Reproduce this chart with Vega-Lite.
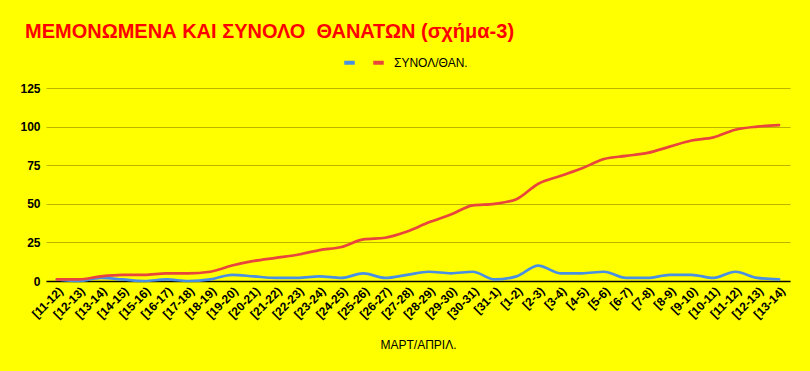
{
  "$schema": "https://vega.github.io/schema/vega-lite/v6.json",
  "autosize": "none",
  "width": 744,
  "height": 193,
  "padding": {"left": 46, "top": 88, "right": 20, "bottom": 90},
  "background": "#ffff00",
  "title": {
    "text": "ΜΕΜΟΝΩΜΕΝΑ ΚΑΙ ΣΥΝΟΛΟ \u00a0ΘΑΝΑΤΩΝ (σχήμα-3)",
    "anchor": "start",
    "frame": "group",
    "font": "Liberation Sans",
    "fontSize": 20,
    "fontWeight": "bold",
    "color": "#ff0000",
    "dx": -21,
    "offset": 13
  },
  "data": {
    "values": [
      {"date": "2020-03-12", "daily": 1, "total": 1},
      {"date": "2020-03-13", "daily": 0, "total": 1},
      {"date": "2020-03-14", "daily": 2, "total": 3},
      {"date": "2020-03-15", "daily": 1, "total": 4},
      {"date": "2020-03-16", "daily": 0, "total": 4},
      {"date": "2020-03-17", "daily": 1, "total": 5},
      {"date": "2020-03-18", "daily": 0, "total": 5},
      {"date": "2020-03-19", "daily": 1, "total": 6},
      {"date": "2020-03-20", "daily": 4, "total": 10},
      {"date": "2020-03-21", "daily": 3, "total": 13},
      {"date": "2020-03-22", "daily": 2, "total": 15},
      {"date": "2020-03-23", "daily": 2, "total": 17},
      {"date": "2020-03-24", "daily": 3, "total": 20},
      {"date": "2020-03-25", "daily": 2, "total": 22},
      {"date": "2020-03-26", "daily": 5, "total": 27},
      {"date": "2020-03-27", "daily": 2, "total": 28},
      {"date": "2020-03-28", "daily": 4, "total": 32},
      {"date": "2020-03-29", "daily": 6, "total": 38},
      {"date": "2020-03-30", "daily": 5, "total": 43},
      {"date": "2020-03-31", "daily": 6, "total": 49},
      {"date": "2020-04-01", "daily": 1, "total": 50},
      {"date": "2020-04-02", "daily": 3, "total": 53},
      {"date": "2020-04-03", "daily": 10, "total": 63},
      {"date": "2020-04-04", "daily": 5, "total": 68},
      {"date": "2020-04-05", "daily": 5, "total": 73},
      {"date": "2020-04-06", "daily": 6, "total": 79},
      {"date": "2020-04-07", "daily": 2, "total": 81},
      {"date": "2020-04-08", "daily": 2, "total": 83},
      {"date": "2020-04-09", "daily": 4, "total": 87},
      {"date": "2020-04-10", "daily": 4, "total": 91},
      {"date": "2020-04-11", "daily": 2, "total": 93},
      {"date": "2020-04-12", "daily": 6, "total": 98},
      {"date": "2020-04-13", "daily": 2, "total": 100},
      {"date": "2020-04-14", "daily": 1, "total": 101}
    ]
  },
  "transform": [{"fold": ["daily", "total"], "as": ["series", "value"]}],
  "mark": {"type": "line", "interpolate": "monotone", "strokeWidth": 2.7, "strokeCap": "round"},
  "encoding": {
    "x": {
      "field": "date",
      "type": "ordinal",
      "sort": null,
      "scale": {"type": "point", "padding": 0.5},
      "axis": {
        "title": "ΜΑΡΤ/ΑΠΡΙΛ.",
        "titleFont": "Liberation Sans",
        "titleFontSize": 12,
        "titleFontWeight": "normal",
        "titleColor": "#000000",
        "titlePadding": 19,
        "labelExpr": "'[' + utcdate(toDate(datum.value) - 86400000) + '-' + utcdate(toDate(datum.value)) + ')'",
        "labelAngle": -45,
        "labelFont": "Liberation Sans",
        "labelFontSize": 12,
        "labelFontWeight": "bold",
        "labelColor": "#000000",
        "labelPadding": 4,
        "ticks": false,
        "domainColor": "#000000",
        "domainWidth": 1.5,
        "grid": false
      }
    },
    "y": {
      "field": "value",
      "type": "quantitative",
      "scale": {"domain": [0, 125]},
      "axis": {
        "title": null,
        "values": [0, 25, 50, 75, 100, 125],
        "labelFont": "Liberation Sans",
        "labelFontSize": 12,
        "labelFontWeight": "bold",
        "labelColor": "#000000",
        "labelPadding": 6,
        "ticks": false,
        "domain": false,
        "gridColor": "#bdb400",
        "gridWidth": 1.2
      }
    },
    "color": {
      "field": "series",
      "type": "nominal",
      "scale": {"domain": ["daily", "total"], "range": ["#4a90e2", "#e8453c"]},
      "legend": {
        "title": null,
        "orient": "none",
        "direction": "horizontal",
        "legendX": 296,
        "legendY": -33,
        "symbolType": "stroke",
        "symbolStrokeWidth": 4,
        "symbolSize": 110,
        "labelExpr": "datum.label == 'daily' ? '' : 'ΣΥΝΟΛ/ΘΑΝ.'",
        "labelFont": "Liberation Sans",
        "labelFontSize": 12,
        "labelColor": "#000000",
        "labelOffset": 8,
        "columnPadding": 0
      }
    }
  },
  "config": {"view": {"stroke": null}}
}
